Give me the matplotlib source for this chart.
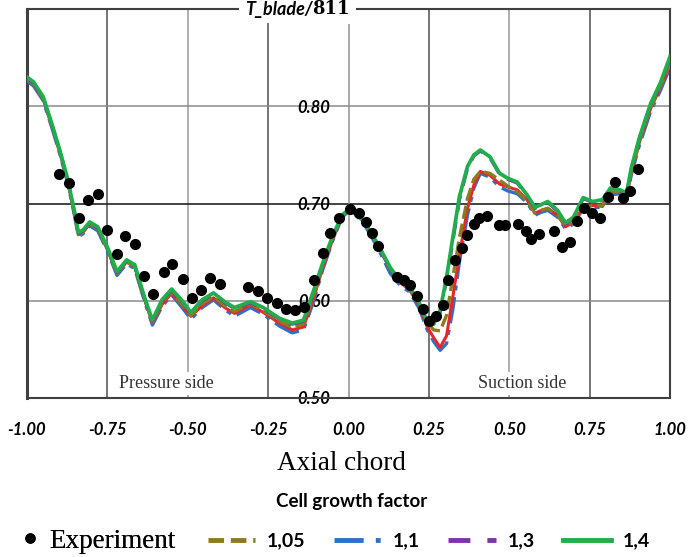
import numpy as np
import matplotlib
matplotlib.use("Agg")
import matplotlib.pyplot as plt
from matplotlib.lines import Line2D

# experiment (measured points)
exp_x = [-0.900, -0.868, -0.839, -0.809, -0.780, -0.752, -0.721, -0.694, -0.664, -0.636,
         -0.607, -0.574, -0.548, -0.516, -0.488, -0.460, -0.431, -0.400, -0.312, -0.282,
         -0.253, -0.223, -0.194, -0.166, -0.138, -0.107, -0.080, -0.056, -0.029, 0.006,
         0.033, 0.053, 0.072, 0.093, 0.150, 0.173, 0.191, 0.212, 0.233, 0.251,
         0.272, 0.293, 0.311, 0.331, 0.352, 0.370, 0.390, 0.407, 0.430, 0.468,
         0.487, 0.528, 0.551, 0.567, 0.593, 0.638, 0.663, 0.689, 0.710, 0.734,
         0.758, 0.782, 0.806, 0.828, 0.853, 0.877, 0.901]
exp_y = [0.730, 0.721, 0.685, 0.704, 0.710, 0.673, 0.648, 0.667, 0.658, 0.625,
         0.607, 0.630, 0.638, 0.622, 0.603, 0.611, 0.623, 0.617, 0.614, 0.610,
         0.603, 0.598, 0.592, 0.590, 0.594, 0.621, 0.649, 0.670, 0.685, 0.694,
         0.690, 0.681, 0.670, 0.656, 0.624, 0.621, 0.616, 0.605, 0.592, 0.579,
         0.584, 0.596, 0.621, 0.642, 0.654, 0.668, 0.679, 0.685, 0.687, 0.678,
         0.678, 0.679, 0.672, 0.664, 0.669, 0.672, 0.655, 0.660, 0.682, 0.695,
         0.690, 0.685, 0.707, 0.722, 0.706, 0.713, 0.735]

# common chord positions of the simulated curves
cx = [-1.00, -0.98, -0.95, -0.92, -0.90, -0.89, -0.875, -0.855, -0.84, -0.825,
      -0.805, -0.78, -0.75, -0.72, -0.69, -0.665, -0.635, -0.61, -0.58, -0.55,
      -0.52, -0.49, -0.455, -0.42, -0.385, -0.355, -0.305, -0.265, -0.215, -0.175,
      -0.14, -0.11, -0.08, -0.05, -0.02, 0.005,
      0.045, 0.09, 0.13, 0.16, 0.19, 0.22, 0.245, 0.265, 0.285, 0.305,
      0.325, 0.345, 0.37, 0.39, 0.41, 0.44, 0.47, 0.495, 0.525, 0.555,
      0.58, 0.60, 0.62, 0.65, 0.675, 0.70, 0.73, 0.76, 0.79, 0.815,
      0.845, 0.865, 0.88, 0.905, 0.94, 0.97, 1.00]

g14 = [0.830, 0.825, 0.810, 0.779, 0.757, 0.745, 0.727, 0.696, 0.670, 0.673,
       0.681, 0.676, 0.655, 0.630, 0.642, 0.637, 0.604, 0.580, 0.601, 0.612,
       0.601, 0.588, 0.601, 0.608, 0.599, 0.593, 0.599, 0.593, 0.582, 0.577,
       0.580, 0.609, 0.639, 0.666, 0.688, 0.695,
       0.683, 0.659, 0.634, 0.621, 0.614, 0.598, 0.578, 0.576, 0.590, 0.624,
       0.666, 0.707, 0.738, 0.750, 0.755, 0.748, 0.731, 0.726, 0.722, 0.709,
       0.696, 0.699, 0.702, 0.693, 0.680, 0.686, 0.706, 0.702, 0.704, 0.716,
       0.714, 0.711, 0.737, 0.768, 0.803, 0.824, 0.851]

g13 = [0.829, 0.824, 0.809, 0.778, 0.756, 0.744, 0.726, 0.695, 0.669, 0.672,
       0.680, 0.675, 0.654, 0.629, 0.641, 0.636, 0.603, 0.579, 0.600, 0.611,
       0.600, 0.587, 0.600, 0.607, 0.598, 0.592, 0.598, 0.592, 0.581, 0.576,
       0.579, 0.608, 0.638, 0.665, 0.687, 0.694,
       0.682, 0.658, 0.633, 0.620, 0.613, 0.597, 0.577, 0.575, 0.588, 0.621,
       0.662, 0.704, 0.736, 0.749, 0.754, 0.747, 0.730, 0.725, 0.721, 0.708,
       0.695, 0.698, 0.701, 0.692, 0.679, 0.685, 0.705, 0.701, 0.703, 0.715,
       0.713, 0.710, 0.736, 0.767, 0.802, 0.823, 0.849]

g12 = [0.828, 0.823, 0.808, 0.777, 0.755, 0.743, 0.725, 0.694, 0.668, 0.671,
       0.679, 0.674, 0.653, 0.628, 0.640, 0.635, 0.602, 0.577, 0.596, 0.608,
       0.596, 0.584, 0.595, 0.603, 0.593, 0.587, 0.596, 0.588, 0.577, 0.570,
       0.573, 0.601, 0.634, 0.662, 0.687, 0.694,
       0.683, 0.658, 0.632, 0.619, 0.611, 0.595, 0.573, 0.562, 0.552, 0.564,
       0.605, 0.647, 0.695, 0.719, 0.733, 0.729, 0.720, 0.717, 0.714, 0.704,
       0.690, 0.693, 0.695, 0.688, 0.676, 0.681, 0.696, 0.698, 0.697, 0.711,
       0.712, 0.708, 0.732, 0.763, 0.798, 0.819, 0.842]

g11 = [0.826, 0.821, 0.806, 0.775, 0.753, 0.741, 0.723, 0.692, 0.666, 0.669,
       0.677, 0.672, 0.651, 0.626, 0.638, 0.633, 0.600, 0.575, 0.594, 0.606,
       0.594, 0.581, 0.593, 0.601, 0.591, 0.584, 0.593, 0.586, 0.574, 0.567,
       0.570, 0.598, 0.632, 0.661, 0.686, 0.693,
       0.681, 0.655, 0.628, 0.616, 0.609, 0.592, 0.570, 0.558, 0.549, 0.556,
       0.592, 0.640, 0.688, 0.716, 0.731, 0.727, 0.717, 0.713, 0.710, 0.701,
       0.688, 0.691, 0.693, 0.686, 0.674, 0.679, 0.695, 0.696, 0.696, 0.709,
       0.710, 0.706, 0.730, 0.760, 0.795, 0.816, 0.840]

g105 = [0.828, 0.823, 0.808, 0.777, 0.755, 0.743, 0.725, 0.694, 0.668, 0.671,
        0.679, 0.674, 0.653, 0.628, 0.640, 0.635, 0.603, 0.578, 0.598, 0.609,
        0.597, 0.585, 0.597, 0.604, 0.595, 0.589, 0.597, 0.590, 0.579, 0.573,
        0.576, 0.604, 0.636, 0.664, 0.687, 0.694,
        0.682, 0.658, 0.633, 0.620, 0.612, 0.597, 0.578, 0.570, 0.569, 0.585,
        0.625, 0.665, 0.705, 0.725, 0.733, 0.731, 0.724, 0.718, 0.712, 0.703,
        0.690, 0.693, 0.695, 0.688, 0.677, 0.682, 0.697, 0.698, 0.698, 0.712,
        0.712, 0.709, 0.733, 0.764, 0.799, 0.820, 0.844]

xticks = [-1.0, -0.75, -0.5, -0.25, 0.0, 0.25, 0.5, 0.75, 1.0]
yticks = [0.5, 0.6, 0.7, 0.8]

c_olive = "#8c7a1e"
c_blue = "#2a72c8"
c_purple = "#7a35a8"
c_red = "#e8262a"
c_green = "#1fae4c"

tick_font = {"family": "Lato", "weight": "bold", "style": "italic", "size": 12}

fig = plt.figure(figsize=(6.9, 5.57), dpi=100)
ax = fig.add_axes([27/690, 1 - 398/557, 643/690, 389/557])

ax.set_xlim(-1, 1)
ax.set_ylim(0.5, 0.9)

# grid lines
for xv in [-0.75, -0.25, 0.25, 0.75]:
    ax.axvline(xv, color="#505050", lw=1.1, zorder=1)
for xv in [-0.5, 0.5]:
    ax.axvline(xv, color="#9a9a9a", lw=1.1, zorder=1)
for yv in [0.6, 0.8]:
    ax.axhline(yv, color="#8a8a8a", lw=1.1, zorder=1)
ax.axhline(0.7, color="#222222", lw=1.2, zorder=1)

# curves
ax.plot(cx, g11, color=c_blue, lw=2.4, dashes=(8, 2, 1.5, 2), zorder=3)
ax.plot(cx, g12, color=c_red, lw=2.2, zorder=3)
ax.plot(cx, g105, color=c_olive, lw=2.4, dashes=(4, 1.5), zorder=3)
ax.plot(cx, g13, color=c_purple, lw=2.4, dashes=(5, 3), zorder=3)
ax.plot(cx, g14, color=c_green, lw=2.7, zorder=4)
ax.plot(exp_x, exp_y, "o", color="black", ms=7, zorder=5)

# spines: box frame plus y axis through x=0
for s in ["top", "right", "bottom"]:
    ax.spines[s].set_color("#404040")
    ax.spines[s].set_linewidth(1.5)
ax.spines["left"].set_position(("data", 0))
ax.spines["left"].set_color("#909090")
ax.spines["left"].set_linewidth(1.1)
ax.axvline(-1, color="#404040", lw=2.2, zorder=2.5, clip_on=False)

ax.set_xticks(xticks)
ax.set_yticks(yticks)
ax.set_xticklabels(["%.2f" % v for v in xticks], fontdict=tick_font)
ax.set_yticklabels(["%.2f" % v for v in yticks], fontdict=tick_font)
ax.tick_params(axis="x", length=0, pad=17)
ax.tick_params(axis="y", length=0, pad=13)

# axis title at the top, on a white patch that hides the frame line
x_split = -0.112
ax.text(x_split, 0.9, "T_blade/", ha="right", va="center", fontsize=13,
        family="Lato", weight="bold", style="italic", color="white", zorder=5,
        clip_on=False, bbox=dict(facecolor="white", edgecolor="none", pad=4))
ax.text(x_split, 0.9, "811", ha="left", va="center", fontsize=13,
        family="DejaVu Serif", weight="bold", zorder=6, clip_on=False,
        bbox=dict(facecolor="white", edgecolor="none", pad=4))
ax.text(x_split, 0.9, "T_blade/", ha="right", va="center", fontsize=13,
        family="Lato", weight="bold", style="italic", zorder=7, clip_on=False)

ax.text(-0.565, 0.515, "Pressure side", ha="center", va="center", fontsize=13,
        family="Liberation Serif", color="#333333", zorder=6,
        bbox=dict(facecolor="white", edgecolor="none", pad=2))
ax.text(0.54, 0.515, "Suction side", ha="center", va="center", fontsize=13,
        family="Liberation Serif", color="#333333", zorder=6,
        bbox=dict(facecolor="white", edgecolor="none", pad=2))

fig.text(341/690, 1 - 463/557, "Axial chord", ha="center", va="center",
         fontsize=19.5, family="Liberation Serif")

fig.text(352/690, 1 - 502/557, "Cell growth factor", ha="center", va="center",
         fontsize=13.5, family="Lato", weight="bold")

row_y = 1 - 541/557

leg1 = fig.legend([Line2D([], [], ls="none", marker="o", color="black", ms=6.5)],
                  ["Experiment"], loc="center left", bbox_to_anchor=(6/690, row_y),
                  frameon=False, borderpad=0, handlelength=0.8, handletextpad=0.3,
                  prop={"family": "Liberation Serif", "size": 19.5})

handles = [
    Line2D([], [], color=c_olive, lw=3.5, dashes=(3.2, 1.4)),
    Line2D([], [], color=c_blue, lw=3.5, dashes=(6, 2.5, 1, 2.5)),
    Line2D([], [], color=c_purple, lw=3.5, dashes=(4.5, 3.5)),
    Line2D([], [], color=c_green, lw=3.5),
]
labels = ["1,05", "1,1", "1,3", "1,4"]
leg2 = fig.legend(handles, labels, loc="center left", ncol=4,
                  bbox_to_anchor=(198/690, row_y), frameon=False, borderpad=0,
                  prop={"family": "Lato", "weight": "bold", "size": 14},
                  handlelength=2.45, handletextpad=0.6, columnspacing=1.45)
fig.add_artist(leg1)

fig.savefig("out.png", dpi=100)
